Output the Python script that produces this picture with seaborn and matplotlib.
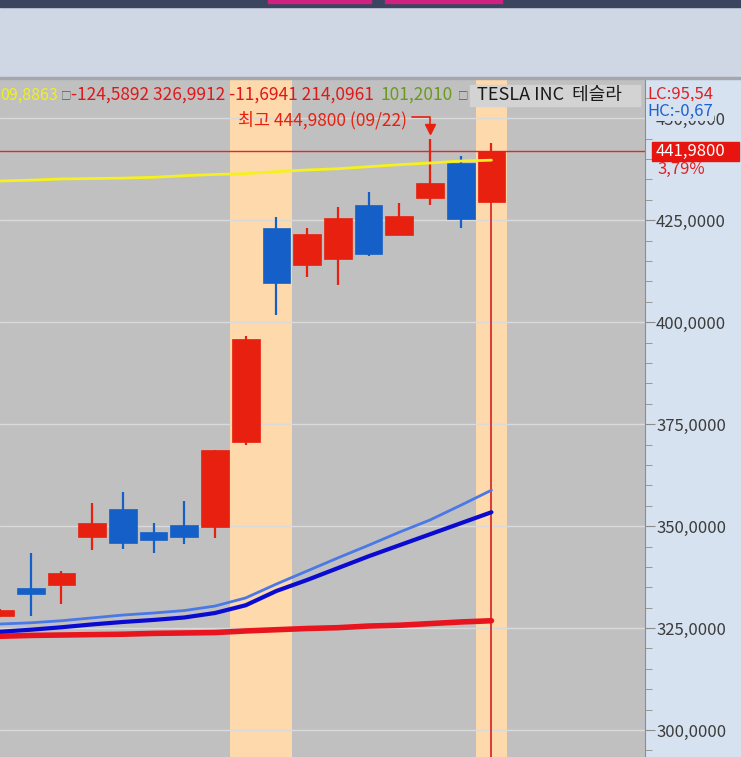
import numpy as np
import pandas as pd
import matplotlib.pyplot as plt
import seaborn as sns
from matplotlib.patches import Rectangle
from matplotlib.ticker import MultipleLocator, FuncFormatter

# 캔들 데이터 (화면에서 읽은 값)
opens = [327.9, 334.9, 335.6, 347.4, 354.3, 348.5, 350.2, 349.7, 370.6,
         423.1, 414.0, 415.4, 428.7, 421.3, 430.5, 439.0, 429.5]
highs = [329.6, 343.4, 339.0, 355.7, 358.3, 350.7, 356.1, 368.6, 396.6,
         425.7, 423.1, 428.3, 431.8, 429.3, 444.98, 440.8, 443.9]
lows = [327.7, 327.9, 330.8, 344.1, 344.4, 343.3, 345.6, 347.0, 369.8,
        401.7, 411.0, 409.1, 416.2, 421.3, 428.7, 423.1, 429.3]
closes = [329.4, 333.3, 338.6, 350.7, 345.9, 346.6, 347.4, 368.6, 395.8,
          409.5, 421.6, 425.6, 416.6, 426.1, 434.1, 425.2, 441.98]

# 이동평균선
ma_yellow = [434.6, 434.8, 435.1, 435.2, 435.3, 435.5, 435.9, 436.2, 436.4,
             436.9, 437.3, 437.6, 438.1, 438.6, 439.0, 439.5, 439.7]
ma_light = [326.0, 326.3, 326.8, 327.5, 328.2, 328.7, 329.3, 330.4, 332.4,
            335.8, 339.0, 342.2, 345.3, 348.5, 351.5, 355.1, 358.8]
ma_dark = [324.1, 324.6, 325.2, 325.9, 326.5, 327.0, 327.6, 328.7, 330.6,
           334.1, 336.8, 339.7, 342.6, 345.3, 348.0, 350.7, 353.4]
ma_red = [323.0, 323.2, 323.3, 323.4, 323.5, 323.7, 323.8, 323.9, 324.3,
          324.6, 324.9, 325.1, 325.5, 325.7, 326.1, 326.5, 326.8]

highlight_days = [8, 9, 16]
last_price = 441.98

W, H = 741, 757
RED = '#e8200f'
BLUE = '#1560c8'

sns.set_style('white')
plt.rcParams['font.family'] = ['Noto Sans CJK KR', 'DejaVu Sans']

df = pd.DataFrame({'idx': np.arange(len(opens)), 'open': opens, 'high': highs,
                   'low': lows, 'close': closes, 'yellow': ma_yellow,
                   'light': ma_light, 'dark': ma_dark, 'red': ma_red})

fig = plt.figure(figsize=(W / 100, H / 100), dpi=100, facecolor='#d6e2f0')


def fx(x):
    return x / W


def fy(y):
    return 1 - y / H


def ftext(x, y, s, **kw):
    fig.text(fx(x), fy(y), s, va='center', **kw)


# 상단 영역
fig.add_artist(Rectangle((0, fy(78)), 1, 78 / H, transform=fig.transFigure,
                         color='#cfd6e4', zorder=0))
fig.add_artist(Rectangle((0, fy(7)), 1, 7 / H, transform=fig.transFigure,
                         color='#3b4560', zorder=1))
for x0, x1 in [(268, 371), (385, 502)]:
    fig.add_artist(Rectangle((fx(x0), fy(3)), (x1 - x0) / W, 3 / H,
                             transform=fig.transFigure, color='#d02080', zorder=2))
fig.add_artist(Rectangle((0, fy(79)), 1, 2 / H, transform=fig.transFigure,
                         color='#a4a8ae', zorder=2))

ax = fig.add_axes([0, 0, 645 / W, (H - 79) / H])
ax.set_facecolor('#c0c0c0')
ax.set_xlim(0, 21.0)
ax.set_ylim(293.4, 459.6)

# 강조 구간
for d in highlight_days:
    ax.axvspan(d - 0.5, d + 0.5, color='#fdd9ab', lw=0, zorder=0.5)

ax.grid(axis='y', color='#dadada', lw=1)
ax.set_axisbelow(True)

ax.axhline(last_price, color='#e02828', lw=1, zorder=1)

# 캔들
up = df['close'] >= df['open']
for mask, col in [(up, RED), (~up, BLUE)]:
    sub = df[mask]
    ax.vlines(sub['idx'], sub['low'], sub['high'], color=col, lw=1.6, zorder=2)
    ax.bar(sub['idx'], sub['close'] - sub['open'], bottom=sub['open'], width=0.9,
           color=col, edgecolor=col, lw=0.5, zorder=3)

# 현재 커서 세로선
last = df['idx'].iloc[-1]
ax.plot([last, last], [293.4, df['open'].iloc[-1]], color='#d82020', lw=1.2, zorder=2)

sns.lineplot(data=df, x='idx', y='red', ax=ax, color='#e8141e', lw=4.0, zorder=4)
sns.lineplot(data=df, x='idx', y='dark', ax=ax, color='#0a0ad2', lw=3.0, zorder=4)
sns.lineplot(data=df, x='idx', y='light', ax=ax, color='#4a78e6', lw=2.0, zorder=4)
sns.lineplot(data=df, x='idx', y='yellow', ax=ax, color='#f5f01e', lw=2.0, zorder=4)

# 최고가 표시
imax = int(np.argmax(highs))
hmax = highs[imax]
ax.text(imax - 0.75, hmax + 4.4, f"최고 {hmax:.4f} (09/22)".replace('.', ','),
        color=RED, fontsize=12.5, ha='right', va='center')
ax.plot([imax - 0.6, imax, imax], [hmax + 5.3, hmax + 5.3, hmax + 2.8],
        color=RED, lw=1.2, zorder=5)
ax.plot(imax, hmax + 2.4, marker='v', color=RED, ms=7, zorder=5)

ax.set_xlabel('')
ax.set_ylabel('')
ax.set_xticks([])
for s in ['top', 'left', 'bottom']:
    ax.spines[s].set_visible(False)
ax.spines['right'].set_color('#8c8c8c')
ax.yaxis.tick_right()
ax.yaxis.set_major_locator(MultipleLocator(25))
ax.yaxis.set_minor_locator(MultipleLocator(5))
ax.yaxis.set_major_formatter(FuncFormatter(lambda v, p: f"{v:.4f}".replace('.', ',')))
ax.tick_params(axis='y', which='both', direction='out', color='#8c8c8c',
               labelcolor='#3c3c3c', labelsize=12, pad=1)
ax.tick_params(axis='y', which='major', length=7)
ax.tick_params(axis='y', which='minor', length=5)

# 헤더 텍스트
ftext(0, 95, "09,8863", color='#f0f020', fontsize=11.5)
ftext(61, 95, "□", color='#5a5a5a', fontsize=7.5)
ftext(71, 95, "-124,5892 326,9912 -11,6941 214,0961", color='#e01818', fontsize=12.5)
ftext(381, 95, "101,2010", color='#6a9a20', fontsize=12.5)
ftext(458, 95, "□", color='#5a5a5a', fontsize=7.5)
fig.add_artist(Rectangle((fx(470), fy(106)), 170 / W, 21 / H, transform=fig.transFigure,
                         color='#d3d3d3', zorder=5))
ftext(477, 95, "TESLA INC  테슬라", color='#1a1a1a', fontsize=13, zorder=6)

ftext(647, 94, "LC:95,54", color='#e02020', fontsize=12)
ftext(647, 111, "HC:-0,67", color='#2060d0', fontsize=12,
      bbox=dict(facecolor='#d6e2f0', edgecolor='none', pad=1))

# 현재가 라벨
fig.add_artist(Rectangle((fx(652), fy(161)), 87 / W, 19 / H, transform=fig.transFigure,
                         color='#e8140f', zorder=5))
ftext(656, 151, f"{last_price:.4f}".replace('.', ','), color='white', fontsize=12, zorder=6)
ftext(657, 169, "3,79%", color='#e02020', fontsize=12)

fig.savefig('out.png', dpi=100, facecolor=fig.get_facecolor())
